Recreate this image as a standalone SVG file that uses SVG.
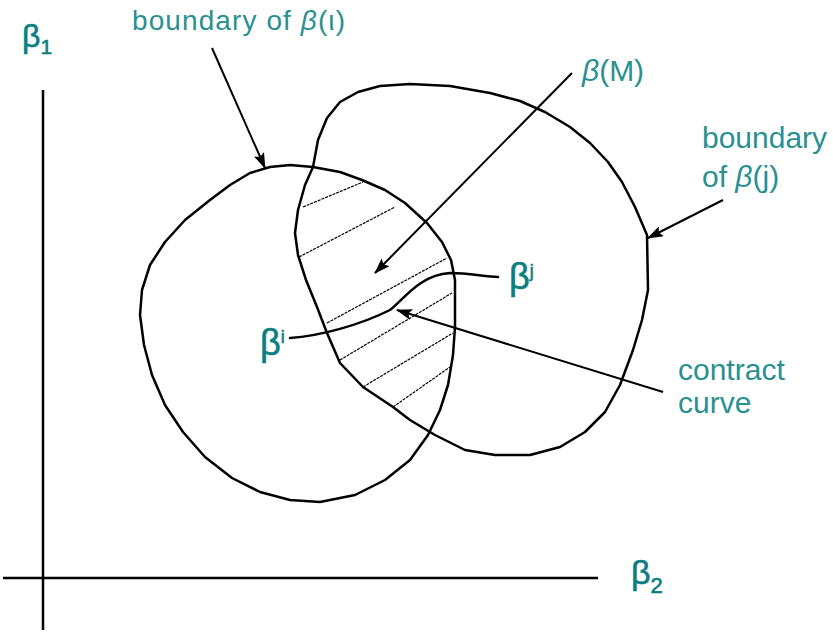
<svg xmlns="http://www.w3.org/2000/svg" width="833" height="635" viewBox="0 0 833 635">
<style>
.blob{fill:none;stroke:#000;stroke-width:2.5;stroke-linejoin:round}
.axis{stroke:#000;stroke-width:2.5;fill:none}
.hatch{stroke:#000;stroke-width:1.2;stroke-dasharray:3 1;fill:none}
.arrow{stroke:#000;stroke-width:2;fill:none;marker-end:url(#ah)}
.curve{stroke:#000;stroke-width:2.5;fill:none;stroke-linecap:round}
.lbl{font-family:"Liberation Sans",Arial,sans-serif;fill:#2a9090}
.beta{font-family:"Liberation Sans",Arial,sans-serif;fill:#0b7f7f;stroke:#0b7f7f;stroke-width:0.6}
</style>
<defs>
<marker id="ah" viewBox="0 0 16 11" refX="15" refY="5.5" markerWidth="16" markerHeight="11" markerUnits="userSpaceOnUse" orient="auto">
<path d="M0,0 L16,5.5 L0,11 L3,5.5 Z" fill="#000"/>
</marker>
</defs>
<rect width="833" height="635" fill="#fff"/>
<g id="axes">
<line class="axis" x1="43" y1="90" x2="43" y2="630"/>
<line class="axis" x1="3" y1="578" x2="598" y2="578"/>
</g>
<g id="region-i">
<polygon class="blob" points="250,173 270,167 290,165 313,167 340,172 362,180 385,190 405,203 427,223 442,242 451,260 455,280 455,327 453,355 448,385 440,410 428,435 410,460 385,480 355,495 320,502 290,500 260,492 232,478 205,457 183,432 165,405 152,375 144,345 140,315 142,290 150,265 165,242 185,220 210,200 230,185"/>
</g>
<g id="region-j">
<polygon class="blob" points="313,167 318,140 327,118 340,102 358,92 380,86 410,84 450,86 490,93 520,101 545,112 570,127 590,143 608,162 622,182 635,207 647,235 648,290 642,320 633,350 620,385 605,412 585,432 560,447 530,455 495,455 465,450 435,435 410,420 393,407 363,387 340,363 327,333 317,307 306,280 298,255 295,233 298,210 305,185"/>
</g>
<g id="region-M">
<line class="hatch" x1="303" y1="207" x2="363" y2="182"/>
<line class="hatch" x1="299" y1="257" x2="395" y2="207"/>
<line class="hatch" x1="327" y1="323" x2="447" y2="258"/>
<line class="hatch" x1="340" y1="360" x2="452" y2="293"/>
<line class="hatch" x1="363" y1="387" x2="453" y2="333"/>
<line class="hatch" x1="393" y1="407" x2="450" y2="367"/>
</g>
<g id="contract-curve">
<path class="curve" d="M290,338 C320,336 360,325 390,310 C405,298 420,275 450,273 C470,273 485,277 498,277"/>
</g>
<g id="connectors">
<line class="arrow" x1="212" y1="48" x2="265" y2="168"/>
<line class="arrow" x1="572" y1="73" x2="375" y2="273"/>
<line class="arrow" x1="723" y1="200" x2="648" y2="238"/>
<line class="arrow" x1="663" y1="392" x2="397" y2="310"/>
</g>
<g id="labels">
<text class="beta" x="22" y="47" font-size="32">β<tspan font-size="21" dy="7">1</tspan></text>
<text class="beta" x="631" y="584" font-size="34">β<tspan font-size="22" dy="9">2</tspan></text>
<text class="beta" x="260" y="355" font-size="36">β<tspan font-size="18" dy="-12">i</tspan></text>
<text class="beta" x="509" y="289" font-size="36">β<tspan font-size="18" dy="-12">j</tspan></text>
<text class="lbl" x="132" y="30" font-size="28" textLength="213">boundary of <tspan font-style="italic">β</tspan>(ι)</text>
<text class="lbl" x="582" y="81" font-size="30"><tspan font-style="italic">β</tspan>(M)</text>
<text class="lbl" x="702" y="148" font-size="30">boundary</text>
<text class="lbl" x="702" y="187" font-size="30">of <tspan font-style="italic">β</tspan>(j)</text>
<text class="lbl" x="678" y="380" font-size="30">contract</text>
<text class="lbl" x="678" y="413" font-size="30">curve</text>
</g>
</svg>
